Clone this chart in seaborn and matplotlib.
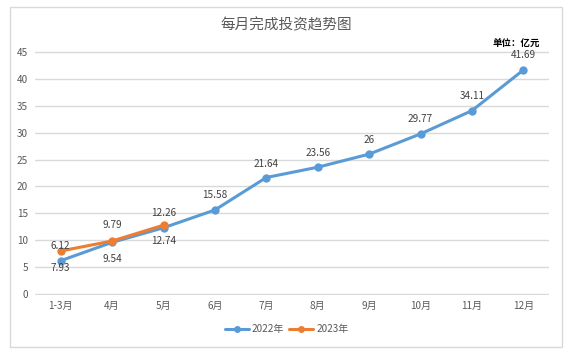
import matplotlib
matplotlib.use("Agg")
import matplotlib.pyplot as plt
import seaborn as sns
import pandas as pd
from matplotlib.patches import Rectangle
from matplotlib.lines import Line2D

# ---- data ----
months = ["1-3月", "4月", "5月", "6月", "7月", "8月", "9月", "10月", "11月", "12月"]
values_2022 = [6.12, 9.54, 12.26, 15.58, 21.64, 23.56, 26, 29.77, 34.11, 41.69]
values_2023 = [7.93, 9.79, 12.74]
labels_2022 = ["7.93", "9.54", "12.74", "15.58", "21.64", "23.56", "26", "29.77", "34.11", "41.69"]
labels_2023 = ["6.12", "9.79", "12.26"]
series_names = ["2022年", "2023年"]
yticks = [0, 5, 10, 15, 20, 25, 30, 35, 40, 45]

# ---- styling ----
BLUE = "#5B9BD5"
ORANGE = "#ED7D31"
GRID = "#D9D9D9"
TXT = "#595959"
LBL = "#404040"
FS = 7.2
off_2022 = [-7, -17, -13, 15, 14, 14, 14, 15, 15, 15]   # px, label offsets
off_2023 = [5, 16, 12]

sns.set_theme(style="white")
plt.rcParams["font.family"] = ["Noto Sans CJK SC", "DejaVu Sans"]

rows = []
for i, v in enumerate(values_2022):
    rows.append({"pos": i, "value": v, "year": series_names[0]})
for i, v in enumerate(values_2023):
    rows.append({"pos": i, "value": v, "year": series_names[1]})
df = pd.DataFrame(rows)

W, H = 573, 356
fig = plt.figure(figsize=(W / 100, H / 100), dpi=100)
fig.patch.set_facecolor("white")

# outer chart border
fig.patches.append(Rectangle((10 / W, 1 - 347 / H), 552 / W, 340 / H,
                             transform=fig.transFigure, fill=False,
                             edgecolor=GRID, linewidth=1.0))

ylo, yhi = -0.3, 45.3
px_per_unit = (293.5 - 52.3) / 45
ax_bottom = 1 - (293.5 + 0.3 * px_per_unit) / H
ax_top = 1 - (52.3 - 0.3 * px_per_unit) / H
ax = fig.add_axes([35 / W, ax_bottom, 514 / W, ax_top - ax_bottom])

sns.lineplot(data=df, x="pos", y="value", hue="year",
             palette={series_names[0]: BLUE, series_names[1]: ORANGE},
             marker="o", markersize=6, markeredgewidth=0, linewidth=2.2,
             legend=False, ax=ax, sort=False)

ax.set_xlim(-0.5, len(months) - 0.5)
ax.set_ylim(ylo, yhi)
ax.set_xticks(range(len(months)))
ax.set_xticklabels(months)
ax.set_yticks(yticks)
ax.set_xlabel("")
ax.set_ylabel("")
for s in ax.spines.values():
    s.set_visible(False)
ax.grid(axis="y", color=GRID, linewidth=1.0)
ax.grid(axis="x", visible=False)
ax.set_axisbelow(True)
ax.tick_params(axis="both", length=0, labelsize=FS, labelcolor=TXT)
ax.tick_params(axis="y", pad=5)
ax.tick_params(axis="x", pad=4)

for i, (v, t) in enumerate(zip(values_2022, labels_2022)):
    ax.annotate(t, (i, v), xytext=(0, off_2022[i] * 0.72), textcoords="offset points",
                ha="center", va="center", fontsize=FS, color=LBL)
for i, (v, t) in enumerate(zip(values_2023, labels_2023)):
    ax.annotate(t, (i, v), xytext=(0, off_2023[i] * 0.72), textcoords="offset points",
                ha="center", va="center", fontsize=FS, color=LBL)

fig.text(286 / W, 1 - 25 / H, "每月完成投资趋势图", ha="center", va="center",
         fontsize=10.5, color=TXT)
fig.text(516 / W, 1 - 42.5 / H, "单位：亿元", ha="center", va="center",
         fontsize=6.8, color="black", fontweight="bold")

handles = [Line2D([], [], color=BLUE, linewidth=2.2, marker="o", markersize=5, markeredgewidth=0),
           Line2D([], [], color=ORANGE, linewidth=2.2, marker="o", markersize=5, markeredgewidth=0)]
leg = fig.legend(handles, series_names, loc="center", bbox_to_anchor=(0.5, 1 - 329 / H),
                 ncol=2, frameon=False, fontsize=FS, handlelength=2.4,
                 handletextpad=0.3, columnspacing=0.5)
for t in leg.get_texts():
    t.set_color(TXT)

fig.savefig("out.png", dpi=100, facecolor="white")
